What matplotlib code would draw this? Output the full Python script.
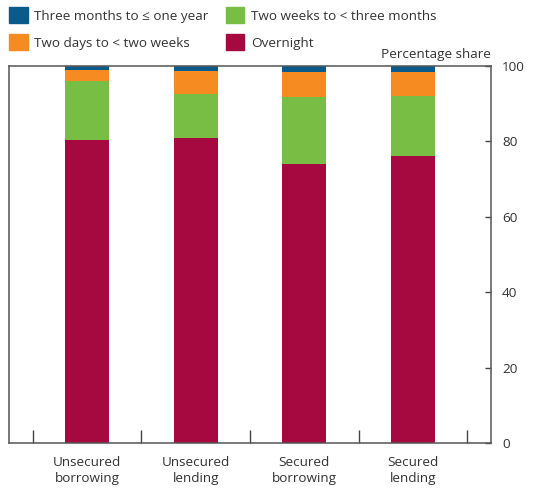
import numpy as np
import matplotlib.pyplot as plt
from matplotlib.patches import Patch

plt.rcParams['font.family'] = ['Open Sans', 'DejaVu Sans']

categories = ['Unsecured\nborrowing', 'Unsecured\nlending', 'Secured\nborrowing', 'Secured\nlending']
overnight = [80.4, 80.9, 74.0, 76.1]
two_weeks_3m = [15.7, 11.7, 17.9, 15.9]
two_days_2w = [2.8, 6.2, 6.5, 6.4]
three_m_1y = [1.1, 1.2, 1.6, 1.6]

series = [
    ('Overnight', overnight, '#A5093F'),
    ('Two weeks to < three months', two_weeks_3m, '#78BE45'),
    ('Two days to < two weeks', two_days_2w, '#F68B22'),
    ('Three months to \u2264 one year', three_m_1y, '#0B5A8C'),
]

FS = 9.7

fig = plt.figure(figsize=(5.33, 4.88), dpi=100)
ax = fig.add_axes([0.0169, 0.0922, 0.9043, 0.7726])

x = np.arange(len(categories))
bottom = np.zeros(len(categories))
for name, vals, col in series:
    ax.bar(x, vals, width=0.405, bottom=bottom, color=col, linewidth=0)
    bottom += np.array(vals)

ax.set_xlim(-0.72, 3.72)
ax.set_ylim(0, 100)

# y axis on the right, inward ticks
ax.yaxis.tick_right()
ax.set_yticks([0, 20, 40, 60, 80, 100])
ax.tick_params(axis='y', direction='in', length=4, width=1, color='#444444',
               labelsize=FS, labelcolor='#333333', pad=8)

# boundary ticks on x, labels at centres via minor ticks
ax.set_xticks(np.arange(-0.5, len(categories), 1.0))
ax.set_xticklabels([])
ax.tick_params(axis='x', which='major', direction='in', length=9.5, width=1, color='#444444')
ax.set_xticks(x, minor=True)
ax.set_xticklabels(categories, minor=True)
ax.tick_params(axis='x', which='minor', length=0, labelsize=FS, labelcolor='#333333', pad=9)
for lab in ax.get_xticklabels(minor=True):
    lab.set_linespacing(1.3)

for s in ax.spines.values():
    s.set_color('#555555')
    s.set_linewidth(1.1)

ax.text(1.0, 1.012, 'Percentage share', transform=ax.transAxes, ha='right', va='bottom',
        fontsize=FS, color='#333333')

handles = [Patch(color=series[3][2], label=series[3][0]),
           Patch(color=series[2][2], label=series[2][0]),
           Patch(color=series[1][2], label=series[1][0]),
           Patch(color=series[0][2], label=series[0][0])]
fig.legend(handles=handles, ncol=2, loc='upper left', bbox_to_anchor=(0.0, 1.004),
           frameon=False, fontsize=FS, handlelength=1.35, handleheight=1.45,
           handletextpad=0.5, columnspacing=1.3, labelspacing=0.8, borderaxespad=0.3,
           labelcolor='#333333')

fig.savefig('out.png', dpi=100)
